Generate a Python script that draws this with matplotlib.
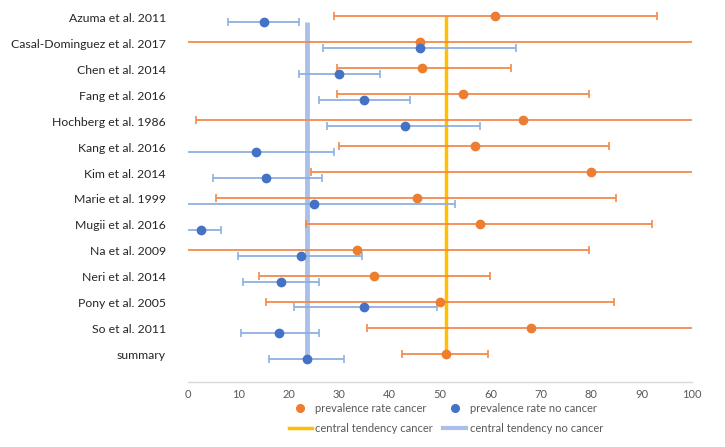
"""Forest-style plot of prevalence rates with and without cancer."""

import matplotlib.pyplot as plt
from matplotlib.lines import Line2D
import numpy as np

studies = [
    "Azuma et al. 2011", "Casal-Dominguez et al. 2017", "Chen et al. 2014",
    "Fang et al. 2016", "Hochberg et al. 1986", "Kang et al. 2016",
    "Kim et al. 2014", "Marie et al. 1999", "Mugii et al. 2016",
    "Na et al. 2009", "Neri et al. 2014", "Pony et al. 2005",
    "So et al. 2011", "summary",
]

cancer_rate = [61, 46, 46.5, 54.5, 66.5, 57, 80, 45.5, 58, 33.5, 37, 50, 68, 51.2]
cancer_low = [29, 0, 29.5, 29.5, 1.5, 30, 24.5, 5.5, 23.5, 0, 14, 15.5, 35.5, 42.5]
cancer_high = [93, 100, 64, 79.5, 100, 83.5, 100, 85, 92, 79.5, 60, 84.5, 100, 59.5]

nocancer_rate = [15, 46, 30, 35, 43, 13.5, 15.5, 25, 2.5, 22.5, 18.5, 35, 18, 23.6]
nocancer_low = [8, 26.7, 22, 26, 27.5, 0, 5, 0, 0, 10, 11, 21, 10.5, 16]
nocancer_high = [22, 65, 38, 44, 58, 29, 26.5, 53, 6.5, 34.5, 26, 49.5, 26, 31]

central_cancer = 51.2
central_nocancer = 23.6

ORANGE = "#ED7D31"
ORANGE_BAR = "#F28A4B"
BLUE = "#4472C4"
BLUE_BAR = "#8DB0E2"
GOLD = "#FFC000"
LIGHT_BLUE = "#A9C1E8"


def draw_series(ax, rows, rate, low, high, color, bar_color):
    rate = np.array(rate)
    low = np.array(low)
    high = np.array(high)
    ax.hlines(rows, low, high, color=bar_color, lw=1.3, zorder=3)
    for vals in (low, high):
        keep = (vals > 0) & (vals < 100)
        ax.scatter(vals[keep], rows[keep], marker="|", s=40, color=bar_color,
                   linewidths=1.2, zorder=3)
    ax.scatter(rate, rows, s=36, color=color, zorder=4)


def main() -> None:
    plt.rcParams["font.family"] = ["Lato", "DejaVu Sans"]
    fig = plt.figure(figsize=(7.25, 4.47), dpi=100)
    ax = fig.add_axes([0.2593, 0.1454, 0.6952, 0.848])

    y = np.arange(len(studies), dtype=float)
    n = len(studies)

    ax.vlines(central_nocancer, 0.2, n - 1 + 0.05, color=LIGHT_BLUE, lw=3.5, zorder=2)
    ax.vlines(central_cancer, -0.05, n - 1 + 0.05, color=GOLD, lw=2.5, zorder=2)

    draw_series(ax, y - 0.04, cancer_rate, cancer_low, cancer_high, ORANGE, ORANGE_BAR)
    draw_series(ax, y + 0.18, nocancer_rate, nocancer_low, nocancer_high, BLUE, BLUE_BAR)

    ax.set_xlim(0, 100)
    ax.set_ylim(14.05, -0.55)
    ax.set_xticks(range(0, 101, 10))
    ax.set_yticks(y)
    ax.set_yticklabels(studies, fontsize=8.8, color="#262626")
    ax.tick_params(axis="y", length=0, pad=16)
    ax.tick_params(axis="x", length=0, pad=5, labelsize=8, labelcolor="#595959")
    for side in ("top", "right", "left"):
        ax.spines[side].set_visible(False)
    ax.spines["bottom"].set_color("#D9D9D9")
    ax.spines["bottom"].set_linewidth(1)

    handles = [
        Line2D([], [], ls="none", marker="o", ms=5.5, color=ORANGE),
        Line2D([], [], color=GOLD, lw=2.5),
        Line2D([], [], ls="none", marker="o", ms=5.5, color=BLUE),
        Line2D([], [], color=LIGHT_BLUE, lw=3),
    ]
    labels = [
        "prevalence rate cancer", "central tendency cancer",
        "prevalence rate no cancer", "central tendency no cancer",
    ]
    fig.legend(handles, labels, ncol=2, loc="center", bbox_to_anchor=(0.615, 0.064),
               frameon=False, fontsize=8, labelcolor="#595959",
               handlelength=2.1, handletextpad=0.3, columnspacing=0.9,
               labelspacing=0.85, borderpad=0.2)

    fig.savefig("out.png", dpi=100)
    plt.close(fig)


if __name__ == "__main__":
    main()
